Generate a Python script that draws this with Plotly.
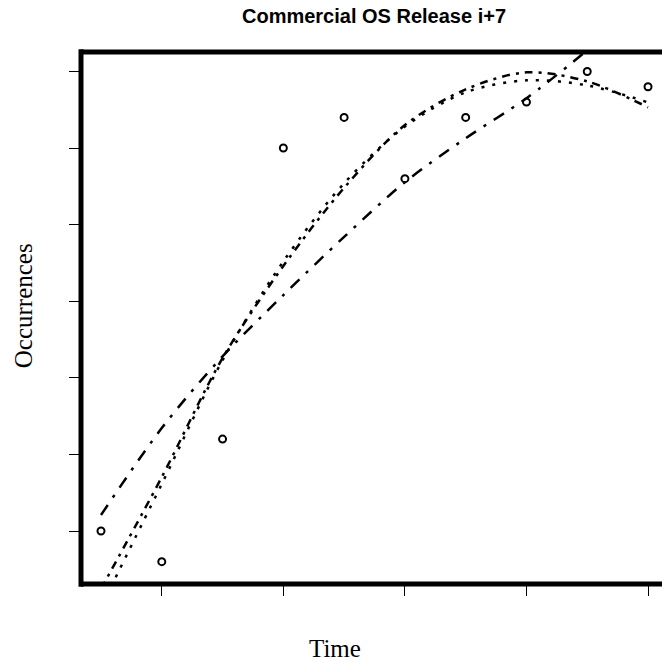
import plotly.graph_objects as go

# Observed release data
time = [1, 2, 3, 4, 5, 6, 7, 8, 9, 10]
occurrences = [5, 3, 11, 30, 32, 28, 32, 33, 35, 34]

# Fitted trend curves evaluated at each time step
fit_a_time = [1, 2, 3, 4, 5, 6, 7, 8, 9]
fit_a = [6.04, 11.72, 16.4, 20.4, 24.2, 27.77, 30.64, 33.25, 36.38]

fit_b_time = [1, 2, 3, 4, 5, 6, 7, 8, 9, 10]
fit_b = [1.22, 8.52, 16.29, 22.3, 27.4, 31.5, 33.83, 34.94, 34.35, 32.66]

fit_c_time = [1, 2, 3, 4, 5, 6, 7, 8, 9, 10]
fit_c = [0.04, 8.07, 16.15, 22.6, 27.7, 31.4, 33.64, 34.42, 34.09, 32.98]

x_ticks = [2, 4, 6, 8, 10]
y_ticks = [5, 10, 15, 20, 25, 30, 35]

W, H = 662, 663
L, T, B = 81, 51.5, 79

fig = go.Figure()

fig.add_trace(go.Scatter(
    x=fit_a_time, y=fit_a, mode="lines",
    line=dict(color="black", width=2.5, dash="12px,9px,3px,9px", shape="spline", smoothing=0.9),
    showlegend=False, hoverinfo="skip"))
fig.add_trace(go.Scatter(
    x=fit_b_time, y=fit_b, mode="lines",
    line=dict(color="black", width=2.5, dash="8px,6px,3px,6px", shape="spline", smoothing=0.9),
    showlegend=False, hoverinfo="skip"))
fig.add_trace(go.Scatter(
    x=fit_c_time, y=fit_c, mode="lines",
    line=dict(color="black", width=2.5, dash="3px,8px", shape="spline", smoothing=0.9),
    showlegend=False, hoverinfo="skip"))
fig.add_trace(go.Scatter(
    x=time, y=occurrences, mode="markers",
    marker=dict(symbol="circle-open", size=7, color="black",
                line=dict(color="black", width=2)),
    showlegend=False))

# Frame: left, top and bottom edges (the right edge runs past the page)
frame = dict(color="black", width=5)
fig.add_shape(type="line", xref="paper", yref="paper", x0=0, x1=0, y0=-0.005, y1=1.005, line=frame, layer="above")
fig.add_shape(type="line", xref="paper", yref="paper", x0=0, x1=1.0, y0=1, y1=1, line=frame, layer="above")
fig.add_shape(type="line", xref="paper", yref="paper", x0=0, x1=1.0, y0=0, y1=0, line=frame, layer="above")

fig.update_layout(
    width=W, height=H,
    margin=dict(l=L, r=0, t=T, b=B),
    paper_bgcolor="white", plot_bgcolor="white",
    title=dict(text="<b>Commercial OS Release i+7</b>",
               x=374 / W, xanchor="center", xref="container",
               y=1 - 16 / H, yanchor="middle",
               font=dict(family="Liberation Sans, Arial, sans-serif", size=20, color="black")),
    xaxis=dict(range=[0.671, 10.23], tickvals=x_ticks, showticklabels=False,
               ticks="outside", ticklen=11, tickwidth=1, tickcolor="black",
               showgrid=False, zeroline=False, showline=False),
    yaxis=dict(range=[1.54, 36.27], tickvals=y_ticks, showticklabels=False,
               ticks="outside", ticklen=11, tickwidth=1, tickcolor="black",
               showgrid=False, zeroline=False, showline=False),
    annotations=[
        dict(text="Time", xref="paper", yref="paper",
             x=(335 - L) / (W - L), y=-(649 - (H - B)) / (H - T - B),
             xanchor="center", yanchor="middle", showarrow=False,
             font=dict(family="Liberation Serif, Times New Roman, serif", size=25, color="black")),
        dict(text="Occurrences", xref="paper", yref="paper",
             x=-(L - 23) / (W - L), y=((H - B) - 306) / (H - T - B),
             xanchor="center", yanchor="middle", showarrow=False, textangle=-90,
             font=dict(family="Liberation Serif, Times New Roman, serif", size=25, color="black")),
    ],
)

fig.write_html("out.html")
